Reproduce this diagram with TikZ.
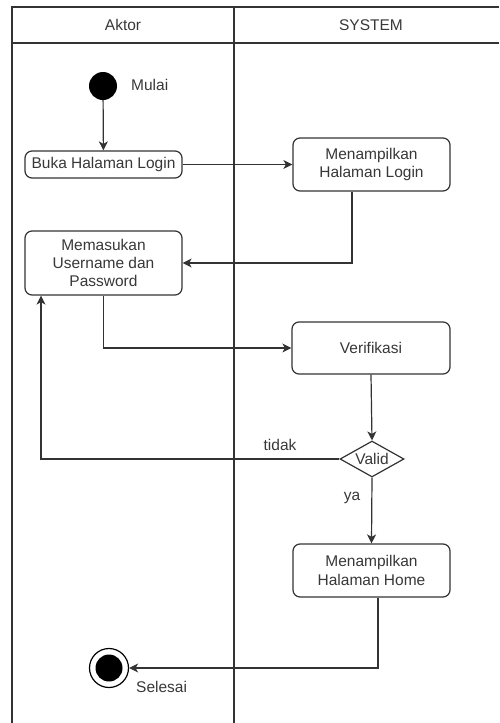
\documentclass[tikz,border=0pt]{standalone}
\usepackage{fontspec}
\setmainfont{Liberation Sans}
\usetikzlibrary{arrows.meta,shapes.geometric}
\definecolor{ink}{gray}{0.2}
\definecolor{txt}{gray}{0.22}
\tikzset{
  lane/.style={draw=ink, line width=1.2pt},
  action/.style={draw=ink, line width=1.2pt, rounded corners=7pt, fill=white,
    text=txt, align=center, inner sep=0pt,
    font=\fontsize{15.5}{18.3}\selectfont},
  decision/.style={draw=ink, line width=1.2pt, diamond, aspect=1.78, fill=white,
    text=txt, inner sep=0pt, font=\fontsize{15.5}{18.3}\selectfont},
  lbl/.style={text=txt, inner sep=0pt, font=\fontsize{15.5}{18.3}\selectfont},
  arr/.style={draw=ink, line width=1.2pt, -{Stealth[length=9pt,width=9pt,inset=2.5pt]}},
}
\begin{document}
\begin{tikzpicture}[x=1pt,y=-1pt]
\useasboundingbox (0,0) rectangle (499,723);

% swimlane frame
\draw[lane] (499,7) -- (12,7) -- (12,723);
\draw[lane] (12,43) -- (499,43);
\draw[lane] (234,7) -- (234,723);
\node[lbl] (laneA) at (123,25) {Aktor};
\node[lbl] (laneS) at (371,25) {SYSTEM};

% initial node
\node[circle, fill=black, minimum size=28pt, inner sep=0pt] (start) at (103,86) {};
\node[lbl, anchor=west] (mulai) at (131,85) {Mulai};

% actions
\node[action, minimum width=157pt, minimum height=27pt] (buka) at (103.5,164.5) {Buka Halaman Login};
\node[action, minimum width=157pt, minimum height=53pt] (login) at (371.5,164.5) {Menampilkan\\Halaman Login};
\node[action, minimum width=157pt, minimum height=64pt] (masuk) at (103.5,263) {Memasukan\\Username dan\\Password};
\node[action, minimum width=158pt, minimum height=52pt] (verif) at (371,348) {Verifikasi};
\node[decision, minimum width=64pt, minimum height=36pt] (valid) at (372,459) {Valid};
\node[action, minimum width=157pt, minimum height=53pt] (home) at (371.5,570.5) {Menampilkan\\Halaman Home};

% final node
\node[circle, draw=black, line width=1.2pt, minimum size=39pt, inner sep=0pt] (end) at (109,668) {};
\node[circle, fill=black, minimum size=27pt, inner sep=0pt] (endin) at (109,668) {};
\node[lbl, anchor=west] (selesai) at (136,687) {Selesai};

% flows
\draw[arr] (start) -- (buka);
\draw[arr] (buka.east) -- (login.west);
\draw[arr] ([xshift=-19.5pt]login.south) |- (masuk.east);
\draw[arr] (masuk.south) |- (verif.west);
\draw[arr] (verif.south) -- (valid.north);
\draw[arr] (valid.west) -| ([xshift=-62.5pt]masuk.south);
\draw[arr] (valid.south) -- (home.north);
\draw[arr] ([xshift=6.5pt]home.south) |- (end.east);

% guard labels
\node[lbl] (tidak) at (280,445) {tidak};
\node[lbl] (ya) at (352,498) {ya};
\end{tikzpicture}
\end{document}
